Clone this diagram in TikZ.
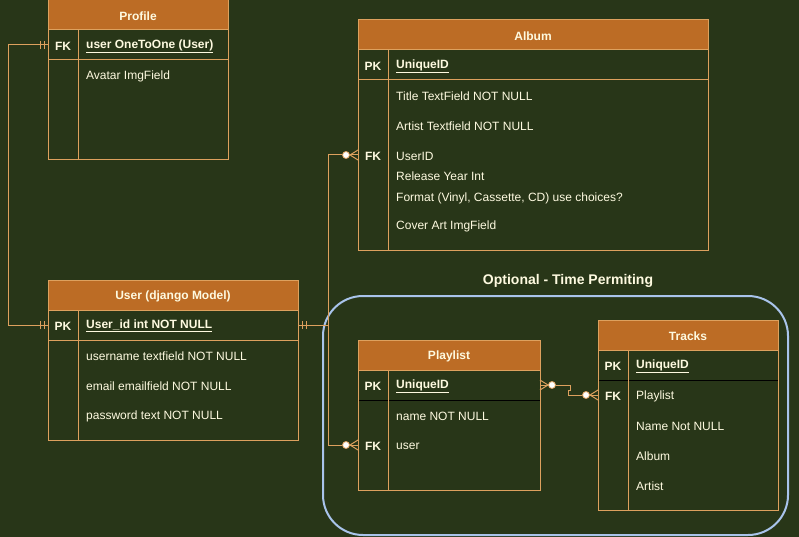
\documentclass[tikz,border=0pt]{standalone}
\usepackage{fontspec}
\setmainfont{Liberation Sans}
\usetikzlibrary{calc}
\definecolor{bg}{HTML}{283618}
\definecolor{hdr}{HTML}{BC6C25}
\definecolor{ln}{HTML}{DDA15E}
\definecolor{tx}{HTML}{FEFAE0}
\definecolor{grp}{HTML}{A9C4EB}
% table: #1 name, #2 x1, #3 y1, #4 x2, #5 y2, #6 divider x, #7 title, #8 separator colour
\newcommand\ertable[8]{%
  \fill[hdr] (#2,#3) rectangle (#4,#3+30);
  \draw[tline] (#2,#3+30) -- (#4,#3+30);
  \draw[line width=1pt,draw=#8] (#2,#3+60) -- (#4,#3+60);
  \draw[tline] (#6,#3+30) -- (#6,#5);
  \node[tbox,minimum width={#4-#2},minimum height={#5-#3}] (#1) at ({(#2+#4)/2},{(#3+#5)/2}) {};
  \node[ttitle] (#1-title) at ({(#2+#4)/2},#3+15) {#7};
}
\newcommand\zmany[3]{% #1 point at entity edge, #2 direction (+1 entity on right, -1 on left), #3 name
  \coordinate (#3-v) at ($(#1)+(-8*#2,0)$);
  \draw[cline] ($(#1)+(0,-5)$) -- (#3-v) -- ($(#1)+(0,5)$);
  \draw[cline] (#3-v) -- (#1);
  \node[zcirc] (#3-c) at ($(#1)+(-12*#2,0)$) {};
}
\newcommand\mone[3]{% #1 point at entity edge, #2 direction, #3 name
  \draw[cline] ($(#1)+(-4*#2,-4)$) -- ($(#1)+(-4*#2,4)$);
  \draw[cline] ($(#1)+(-8*#2,-4)$) -- ($(#1)+(-8*#2,4)$);
}
\begin{document}
\begin{tikzpicture}[x=1pt,y=-1pt,
  font=\fontsize{12}{14}\selectfont,
  tline/.style={draw=ln,line width=1pt},
  cline/.style={draw=ln,line width=1pt},
  tbox/.style={draw=ln,line width=1pt,inner sep=0pt,outer sep=0pt},
  ttitle/.style={text=tx,font=\fontsize{12}{14}\selectfont\bfseries,yshift=-1pt},
  keyl/.style={text=tx,font=\fontsize{12}{14}\selectfont\bfseries,inner sep=0pt,yshift=-1pt},
  fld/.style={text=tx,anchor=west,inner sep=0pt,yshift=-1pt},
  pkf/.style={text=tx,anchor=west,inner sep=0pt,yshift=-1pt,font=\fontsize{12}{14}\selectfont\bfseries},
  zcirc/.style={circle,draw=ln,fill=white,line width=0.8pt,minimum size=7pt,inner sep=0pt},
  grpbox/.style={draw=grp,line width=2pt,rounded corners=40pt}]
\useasboundingbox[fill=bg] (0,0) rectangle (799,537);

% group
\draw[grpbox] (323,296) rectangle (788,535);
\node[text=tx,font=\fontsize{14}{16}\selectfont\bfseries] (grptitle) at (568,281) {Optional - Time Permiting};

% tables
\ertable{profile}{48}{0}{228}{160}{78}{Profile}{ln}
\ertable{user}{48}{280}{298}{440}{78}{User (django Model)}{ln}
\ertable{album}{358}{20}{708}{250}{388}{Album}{ln}
\ertable{playlist}{358}{340}{540}{490}{388}{Playlist}{black}
\ertable{tracks}{598}{320}{778}{510}{628}{Tracks}{black}

% Profile fields
\node[keyl] (pr-fk) at (63,45) {FK};
\node[pkf] (pr-user) at (86,45) {\underline{user OneToOne (User)}};
\node[fld] (pr-av) at (86,75) {Avatar ImgField};

% User fields
\node[keyl] (us-pk) at (63,325) {PK};
\node[pkf] (us-id) at (86,325) {\underline{User\_id int NOT NULL}};
\node[fld] (us-un) at (86,355) {username textfield NOT NULL};
\node[fld] (us-em) at (86,385) {email emailfield NOT NULL};
\node[fld] (us-pw) at (86,415) {password text NOT NULL};

% Album fields
\node[keyl] (al-pk) at (373,65) {PK};
\node[pkf] (al-id) at (396,65) {\underline{UniqueID}};
\node[fld] (al-ti) at (396,95) {Title TextField NOT NULL};
\node[fld] (al-ar) at (396,125) {Artist Textfield NOT NULL};
\node[keyl] (al-fk) at (373,155) {FK};
\node[fld] (al-us) at (396,155) {UserID};
\node[fld] (al-ry) at (396,175) {Release Year Int};
\node[fld] (al-fo) at (396,197) {Format (Vinyl, Cassette, CD) use choices?};
\node[fld] (al-ca) at (396,225) {Cover Art ImgField};

% Playlist fields
\node[keyl] (pl-pk) at (373,385) {PK};
\node[pkf] (pl-id) at (396,385) {\underline{UniqueID}};
\node[fld] (pl-nm) at (396,415) {name NOT NULL};
\node[keyl] (pl-fk) at (373,445) {FK};
\node[fld] (pl-us) at (396,445) {user};

% Tracks fields
\node[keyl] (tr-pk) at (613,365) {PK};
\node[pkf] (tr-id) at (636,365) {\underline{UniqueID}};
\node[keyl] (tr-fk) at (613,395) {FK};
\node[fld] (tr-pl) at (636,395) {Playlist};
\node[fld] (tr-nm) at (636,425) {Name Not NULL};
\node[fld] (tr-al) at (636,455) {Album};
\node[fld] (tr-ar) at (636,485) {Artist};

% connector anchor points
\coordinate (pEdge) at (48,45);
\coordinate (uEdgeL) at (48,325);
\coordinate (uEdgeR) at (298,325);
\coordinate (aEdge) at (358,155);
\coordinate (plEdgeL) at (358,445);
\coordinate (plEdgeR) at (540,385);
\coordinate (tEdge) at (598,395);

% Profile -- User (one to one)
\draw[cline] (pEdge) -- (8,45) -- (8,325) -- (uEdgeL);
\mone{pEdge}{1}{m1}
\mone{uEdgeL}{1}{m2}

% User -- Album
\zmany{aEdge}{1}{za}
\draw[cline] (uEdgeR) -- (328,325) -- (328,155) -- (za-c);
\mone{uEdgeR}{-1}{m3}

% User -- Playlist
\zmany{plEdgeL}{1}{zp}
\draw[cline] (uEdgeR) -- (328,325) -- (328,445) -- (zp-c);

% Playlist -- Tracks
\zmany{plEdgeR}{-1}{zq}
\zmany{tEdge}{1}{zt}
\draw[cline] (zq-c) -- (570,385) -- (570,390) -- (568,390) -- (568,395) -- (zt-c);
\end{tikzpicture}
\end{document}
